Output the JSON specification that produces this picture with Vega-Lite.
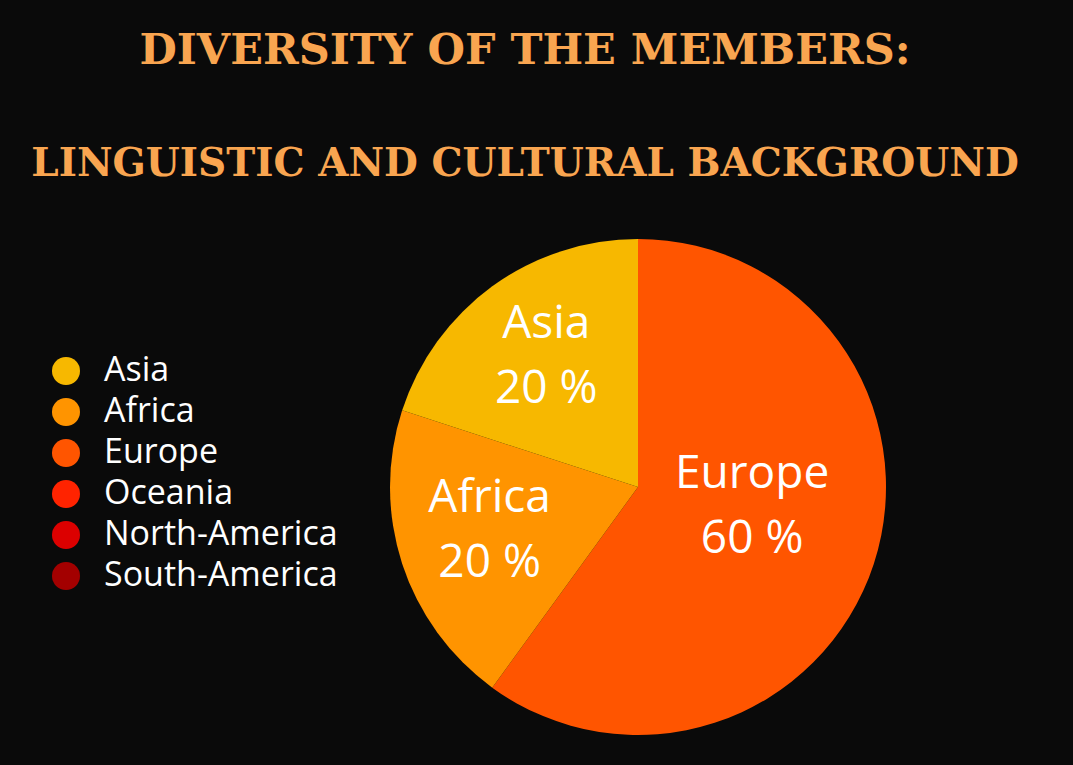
{
  "$schema": "https://vega.github.io/schema/vega-lite/v6.json",
  "autosize": "none",
  "width": 496,
  "height": 496,
  "padding": {"left": 390, "top": 239, "right": 187, "bottom": 30},
  "background": "#0a0a0a",
  "title": {
    "text": "DIVERSITY OF THE MEMBERS:",
    "subtitle": "LINGUISTIC AND CULTURAL BACKGROUND",
    "anchor": "middle",
    "frame": "group",
    "dx": -113,
    "offset": 55,
    "font": "DejaVu Serif",
    "fontSize": 43,
    "fontWeight": "bold",
    "color": "#F9A550",
    "subtitleFont": "DejaVu Serif",
    "subtitleFontSize": 39,
    "subtitleFontWeight": "bold",
    "subtitleColor": "#F9A550",
    "subtitlePadding": 72
  },
  "data": {
    "values": [
      {"region": "Europe", "share": 60, "rank": 1},
      {"region": "Africa", "share": 20, "rank": 2},
      {"region": "Asia", "share": 20, "rank": 3},
      {"region": "Oceania", "share": 0, "rank": 4},
      {"region": "North-America", "share": 0, "rank": 5},
      {"region": "South-America", "share": 0, "rank": 6}
    ]
  },
  "encoding": {
    "theta": {"field": "share", "type": "quantitative", "stack": true},
    "order": {"field": "rank", "type": "quantitative"},
    "color": {
      "field": "region",
      "type": "nominal",
      "scale": {
        "domain": ["Asia", "Africa", "Europe", "Oceania", "North-America", "South-America"],
        "range": ["#F7B800", "#FF9400", "#FF5500", "#FF2300", "#DC0000", "#A30000"]
      },
      "legend": {
        "orient": "none",
        "legendX": -341,
        "legendY": 115,
        "title": null,
        "symbolType": "circle",
        "symbolSize": 784,
        "symbolStrokeWidth": 0,
        "labelFont": "Open Sans",
        "labelFontSize": 34,
        "labelColor": "#ffffff",
        "labelOffset": 21,
        "rowPadding": 7,
        "labelLimit": 400
      }
    }
  },
  "layer": [
    {"mark": {"type": "arc", "outerRadius": 248}},
    {
      "mark": {
        "type": "text",
        "radius": {"expr": "datum.region == 'Europe' ? 120 : 156"},
        "dy": {"expr": "datum.region == 'Europe' ? -50 : -37"},
        "font": "Open Sans",
        "fontSize": 46,
        "lineHeight": 65,
        "text": {"expr": "datum.share > 0 ? [datum.region, datum.share + ' %'] : ''"}
      },
      "encoding": {"color": {"value": "#ffffff"}}
    }
  ]
}
